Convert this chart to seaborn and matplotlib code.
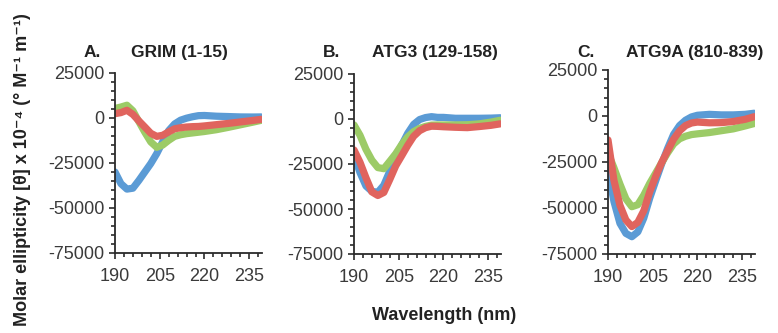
import numpy as np
import pandas as pd
import matplotlib
matplotlib.use("Agg")
import matplotlib.pyplot as plt
import seaborn as sns

sns.set_style("ticks")
plt.rcParams['font.family'] = ['Liberation Sans', 'DejaVu Sans']
plt.rcParams['axes.unicode_minus'] = False

# wavelength grid (nm)
wavelength = [190, 192, 194, 196, 198, 200, 202, 204, 206, 208, 210,
              212, 214, 216, 218, 220, 224, 228, 232, 236, 239]

# A. GRIM (1-15)
grim_blue = [-30000, -36500, -39500, -39000, -34700, -30000, -25300, -19800, -13200, -7000, -3300,
             -1200, -100, 700, 1300, 1400, 1000, 800, 600, 550, 600]
grim_green = [5300, 6100, 7100, 4000, -2000, -7900, -13300, -16300, -15000, -12400, -10200,
              -9300, -8700, -8300, -7900, -7500, -6500, -5200, -3800, -2400, -1300]
grim_red = [2400, 3000, 4300, 2000, -1600, -5000, -8500, -10200, -9600, -7700, -6000,
            -5400, -5000, -4800, -4700, -4400, -3700, -3000, -2200, -1400, -750]

# B. ATG3 (129-158)
atg3_blue = [-20000, -29700, -37200, -40200, -40700, -36800, -29000, -21300, -14500, -8000, -3000,
             -300, 800, 1300, 900, 900, 400, 400, 400, 500, 700]
atg3_green = [-3300, -9000, -16800, -22900, -27000, -27600, -23500, -19300, -14200, -10000, -7000,
              -5200, -4100, -3400, -3300, -3300, -3300, -3200, -2700, -1700, -700]
atg3_red = [-17200, -24000, -32600, -40500, -42500, -40800, -33600, -26000, -20400, -14700, -9600,
            -6500, -4800, -4000, -4100, -4300, -4600, -4800, -4200, -3500, -2700]

# C. ATG9A (810-839)
atg9a_blue = [-29600, -46500, -58300, -63800, -65600, -63000, -55500, -44600, -35200, -26000, -17600,
              -10000, -5200, -2300, -500, 400, 900, 600, 600, 900, 1500]
atg9a_green = [-20000, -28200, -37000, -45000, -49300, -48200, -43000, -36600, -31000, -25400, -20000,
               -15200, -12400, -11000, -10100, -9700, -9000, -8000, -7000, -5400, -4100]
atg9a_red = [-13000, -35000, -48500, -56500, -60100, -57800, -51500, -41200, -32800, -25300, -18900,
             -12600, -8100, -5200, -3800, -3300, -3700, -3600, -3000, -1800, -400]

letters = ['A.', 'B.', 'C.']
names = ['GRIM (1-15)', 'ATG3 (129-158)', 'ATG9A (810-839)']
panels = [
    {'blue': grim_blue, 'green': grim_green, 'red': grim_red},
    {'blue': atg3_blue, 'green': atg3_green, 'red': atg3_red},
    {'blue': atg9a_blue, 'green': atg9a_green, 'red': atg9a_red},
]
palette = {'blue': '#5b9bd5', 'green': '#9ccb67', 'red': '#e0645e'}

fig = plt.figure(figsize=(7.78, 3.33), dpi=100)

# axes boxes in pixels (left, top, right, bottom)
boxes = [(115, 73, 262, 253), (354, 74, 501, 254), (608, 70, 755, 254)]
W, H = 778, 333
name_off = [16, 18, 18]

for i, (data, box) in enumerate(zip(panels, boxes)):
    l, t, r, b = box
    ax = fig.add_axes([l / W, 1 - b / H, (r - l) / W, (b - t) / H])
    df = pd.DataFrame({'Wavelength': wavelength * 3,
                       'Ellipticity': data['blue'] + data['green'] + data['red'],
                       'Series': ['blue'] * len(wavelength) + ['green'] * len(wavelength)
                       + ['red'] * len(wavelength)})
    sns.lineplot(data=df, x='Wavelength', y='Ellipticity', hue='Series', palette=palette,
                 linewidth=5.2, ax=ax, legend=False, solid_capstyle='round', solid_joinstyle='round')
    ax.set_xlim(190, 239.3)
    ax.set_ylim(-75000, 25000)
    ax.set_xticks([190, 205, 220, 235])
    ax.set_xticks(np.arange(190, 240, 3), minor=True)
    ax.set_yticks([25000, 0, -25000, -50000, -75000])
    ax.set_yticks(np.arange(-75000, 25001, 5000), minor=True)
    ax.tick_params(which='both', direction='out', color='#2b2b2b', width=1.2,
                   labelsize=13, labelcolor='#3a3a3a')
    ax.tick_params(which='major', length=4)
    ax.tick_params(which='minor', length=3)
    ax.tick_params(axis='x', pad=7)
    ax.set_xlabel('')
    ax.set_ylabel('')
    for side in ['top', 'right']:
        ax.spines[side].set_visible(False)
    for side in ['left', 'bottom']:
        ax.spines[side].set_color('#2b2b2b')
        ax.spines[side].set_linewidth(1.3)
    fig.text((l - 31) / W, 1 - 57 / H, letters[i], fontsize=12.5, fontweight='bold', color='#222222')
    fig.text((l + name_off[i]) / W, 1 - 57 / H, names[i], fontsize=12.5, fontweight='bold',
             color='#222222')

fig.text(23 / W, 0.49, 'Molar ellipticity [θ] x 10⁻⁴ (° M⁻¹ m⁻¹)', rotation=90,
         fontsize=13, fontweight='bold', color='#222222', ha='center', va='center')
fig.text(444 / W, 1 - 315 / H, 'Wavelength (nm)', fontsize=13, fontweight='bold',
         color='#222222', ha='center', va='center')

fig.savefig('out.png', dpi=100)
